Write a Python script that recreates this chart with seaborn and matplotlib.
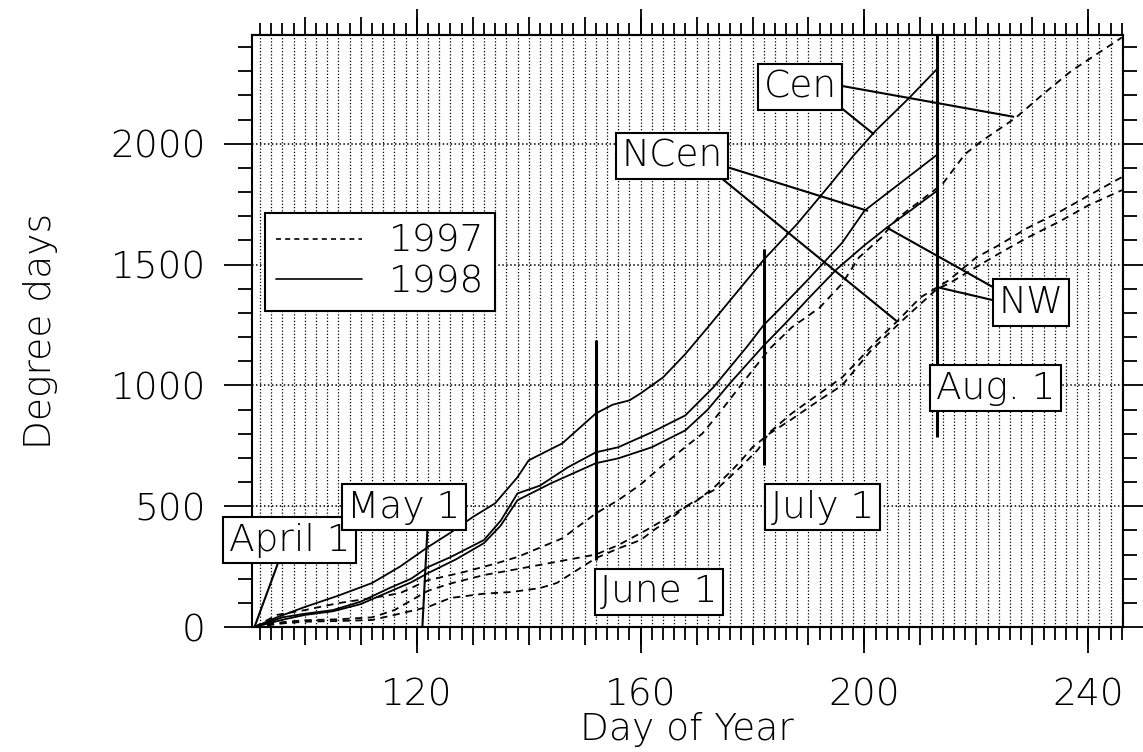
import numpy as np
import pandas as pd
import matplotlib
matplotlib.use('Agg')
import matplotlib.pyplot as plt
from matplotlib.lines import Line2D
from matplotlib.ticker import MultipleLocator, FuncFormatter
import seaborn as sns

# Cumulative degree days
cen97_day = [91, 95, 100, 106, 112, 117, 122, 128, 134, 138, 146, 152, 156, 160, 164, 168, 171, 174,
             179, 183, 187, 192, 196, 199, 203, 206, 210, 214, 218, 221, 227, 232, 237, 246]
cen97_dd = [0, 50, 70, 99, 120, 140, 194, 225, 262, 290, 367, 470, 525, 590, 670, 745, 800, 884,
            1033, 1150, 1240, 1322, 1421, 1529, 1612, 1694, 1764, 1835, 1958, 2012, 2107, 2207, 2302, 2440]

ncen97_day = [91, 96, 100, 106, 112, 116, 122, 126, 132, 138, 145, 152, 156, 161, 165, 169, 174, 178,
              181, 183, 187, 192, 196, 200, 202, 206, 210, 215, 220, 224, 229, 235, 240, 246]
ncen97_dd = [0, 20, 28, 32, 40, 70, 150, 180, 215, 240, 270, 300, 339, 401, 455, 512, 579, 665,
             735, 805, 884, 967, 1033, 1130, 1180, 1269, 1364, 1434, 1530, 1580, 1650, 1720, 1785, 1862]

nw97_day = [91, 96, 100, 106, 112, 116, 122, 126, 132, 137, 142, 145, 152, 156, 160, 162, 166, 168, 170,
            173, 176, 178, 180, 183, 187, 192, 196, 201, 205, 208, 213, 215, 220, 224, 229, 235, 240, 246]
nw97_dd = [0, 15, 22, 25, 29, 50, 83, 120, 138, 145, 161, 182, 285, 325, 360, 395, 460, 496, 522,
           575, 641, 690, 744, 800, 860, 940, 1000, 1140, 1230, 1295, 1400, 1420, 1490, 1545, 1610, 1680, 1745, 1808]

cen98_day = [91, 95, 100, 106, 112, 117, 122, 126, 130, 134, 138, 140, 146, 152, 155, 158, 160, 164,
             168, 172, 177, 182, 188, 194, 198, 202, 208, 213]
cen98_dd = [0, 40, 83, 130, 182, 250, 331, 390, 455, 512, 620, 690, 760, 884, 920, 938, 967, 1033,
            1130, 1240, 1380, 1520, 1669, 1835, 1950, 2054, 2190, 2310]

ncen98_day = [91, 96, 100, 105, 110, 115, 119, 122, 126, 132, 135, 138, 142, 147, 152, 156, 162, 168,
              173, 179, 182, 185, 190, 196, 200, 206, 213]
ncen98_dd = [0, 40, 55, 70, 105, 160, 200, 248, 289, 360, 440, 553, 585, 661, 723, 744, 806, 876,
             992, 1160, 1250, 1320, 1440, 1590, 1723, 1830, 1955]

nw98_day = [91, 96, 100, 105, 110, 115, 119, 122, 127, 132, 135, 138, 144, 152, 156, 162, 168, 172,
            176, 182, 186, 190, 195, 200, 204, 208, 213]
nw98_dd = [0, 30, 50, 65, 95, 145, 185, 223, 280, 347, 420, 525, 595, 678, 698, 744, 814, 900,
           1010, 1165, 1260, 1360, 1480, 1580, 1653, 1720, 1806]

# date markers
date_labels = ['April 1', 'May 1', 'June 1', 'July 1', 'Aug. 1']
date_label_x = [97.3, 117.7, 163.3, 192.5, 223.4]
date_label_y = [360, 496, 145, 496, 988]
leader_day = [91, 121]          # April 1 and May 1 point at the axis
month_line_day = [152, 182, 213]
month_line_lo = [277, 669, 785]
month_line_hi = [1186, 1566, 2450]

# region labels and where their leaders point
region_labels = ['Cen', 'NCen', 'NW']
region_label_x = [188.5, 165.6, 229.8]
region_label_y = [2236, 1950, 1343]
region_targets = [[(226.6, 2112), (201.6, 2041)],
                  [(200.5, 1723), (205.6, 1269)],
                  [(204.0, 1653), (213.3, 1405)]]
region_relpos = [[(1, 0.55), (1, 0)],
                 [(1, 0.22), (0.93, 0)],
                 [(0, 0.85), (0, 0.53)]]

frames = []
for region, year, d, v in [('Cen', '1997', cen97_day, cen97_dd), ('NCen', '1997', ncen97_day, ncen97_dd),
                           ('NW', '1997', nw97_day, nw97_dd), ('Cen', '1998', cen98_day, cen98_dd),
                           ('NCen', '1998', ncen98_day, ncen98_dd), ('NW', '1998', nw98_day, nw98_dd)]:
    frames.append(pd.DataFrame({'day': d, 'dd': v, 'region': region, 'year': year}))
df = pd.concat(frames, ignore_index=True)

sns.set_style('ticks')
plt.rcParams['font.family'] = ['DejaVu Sans']
plt.rcParams['font.weight'] = 'light'
plt.rcParams['axes.labelweight'] = 'light'
plt.rcParams['font.size'] = 27
for k in ['text.color', 'axes.labelcolor', 'xtick.color', 'ytick.color', 'axes.edgecolor']:
    plt.rcParams[k] = 'black'

fig = plt.figure(figsize=(11.43, 7.52), dpi=100)
ax = fig.add_axes([0.2202, 0.1662, 0.7623, 0.7872])

sns.lineplot(data=df, x='day', y='dd', style='year', units='region', estimator=None,
             color='black', dashes={'1997': (4, 3), '1998': ''}, lw=1.3,
             legend=False, sort=False, ax=ax, zorder=3)

ax.set_xlim(90.5, 246.2)
ax.set_ylim(0, 2450)

# ticks
ax.xaxis.set_major_locator(MultipleLocator(10))
ax.xaxis.set_minor_locator(MultipleLocator(2))
ax.xaxis.set_major_formatter(FuncFormatter(lambda v, p: f'{v:.0f}' if round(v) % 40 == 0 else ''))
ax.yaxis.set_major_locator(MultipleLocator(500))
ax.yaxis.set_minor_locator(MultipleLocator(100))
ax.tick_params(which='both', direction='out', top=True, right=True, color='black', width=1.3)
ax.tick_params(axis='x', which='major', length=13, pad=23, labelsize=27)
ax.tick_params(axis='x', which='minor', length=9)
ax.tick_params(axis='y', which='major', length=20, pad=13, labelsize=27)
ax.tick_params(axis='y', which='minor', length=10)
for loc in ['bottom', 'top']:
    sec = ax.secondary_xaxis(loc)
    sec.set_xticks([120, 160, 200, 240])
    sec.tick_params(length=19, width=1.3, direction='out', labelbottom=False, labeltop=False)
    sec.spines[loc].set_linewidth(1.5)
for s in ax.spines.values():
    s.set_linewidth(1.5)
    s.set_color('black')

# dotted grid
ax.grid(which='both', axis='x', color='black', linestyle=(0, (1, 1.6)), lw=0.9)
ax.grid(which='major', axis='y', color='black', linestyle=(0, (1, 1.6)), lw=1.1)
ax.set_axisbelow(True)

ax.set_xlabel('Day of Year', fontsize=27, labelpad=0)
ax.set_ylabel('Degree days', fontsize=27, labelpad=38)

# vertical month lines
ax.vlines(month_line_day, month_line_lo, month_line_hi, colors='black', lw=2.2, zorder=4)

box = dict(boxstyle='square,pad=0.15', fc='white', ec='black', lw=1.5)
nobox = dict(boxstyle='square,pad=0.15', fc='none', ec='none', lw=1.5)

for i, lab in enumerate(date_labels):
    if i < len(leader_day):
        rp = (0.42, 0) if i == 0 else (0.71, 0)
        ax.annotate(lab, xy=(leader_day[i], 0), xytext=(date_label_x[i], date_label_y[i]),
                    ha='center', va='center', fontsize=27, bbox=box, zorder=6,
                    annotation_clip=False,
                    arrowprops=dict(arrowstyle='-', color='black', lw=1.5, relpos=rp,
                                    shrinkA=0, shrinkB=0))
    else:
        ax.text(date_label_x[i], date_label_y[i], lab, ha='center', va='center',
                fontsize=27, bbox=box, zorder=6)

for i, lab in enumerate(region_labels):
    for j, (tgt, rp) in enumerate(zip(region_targets[i], region_relpos[i])):
        ax.annotate(lab, xy=tgt, xytext=(region_label_x[i], region_label_y[i]),
                    ha='center', va='center', fontsize=27,
                    color='black' if j == 0 else 'none',
                    bbox=box if j == 0 else nobox, zorder=6 if j == 0 else 5,
                    annotation_clip=False,
                    arrowprops=dict(arrowstyle='-', color='black', lw=1.5, relpos=rp,
                                    shrinkA=0, shrinkB=0))

handles = [Line2D([], [], color='black', lw=1.2, dashes=(3, 2.5)),
           Line2D([], [], color='black', lw=1.2)]
leg = ax.legend(handles, ['1997', '1998'], loc='upper left', bbox_to_anchor=(0.015, 0.70),
                fontsize=27, frameon=True, fancybox=False, edgecolor='black', framealpha=1,
                handlelength=2.3, handletextpad=0.7, borderpad=0.3, labelspacing=0.15,
                borderaxespad=0)
leg.get_frame().set_linewidth(1.5)
leg.set_zorder(7)

fig.savefig('out.png', dpi=100)
